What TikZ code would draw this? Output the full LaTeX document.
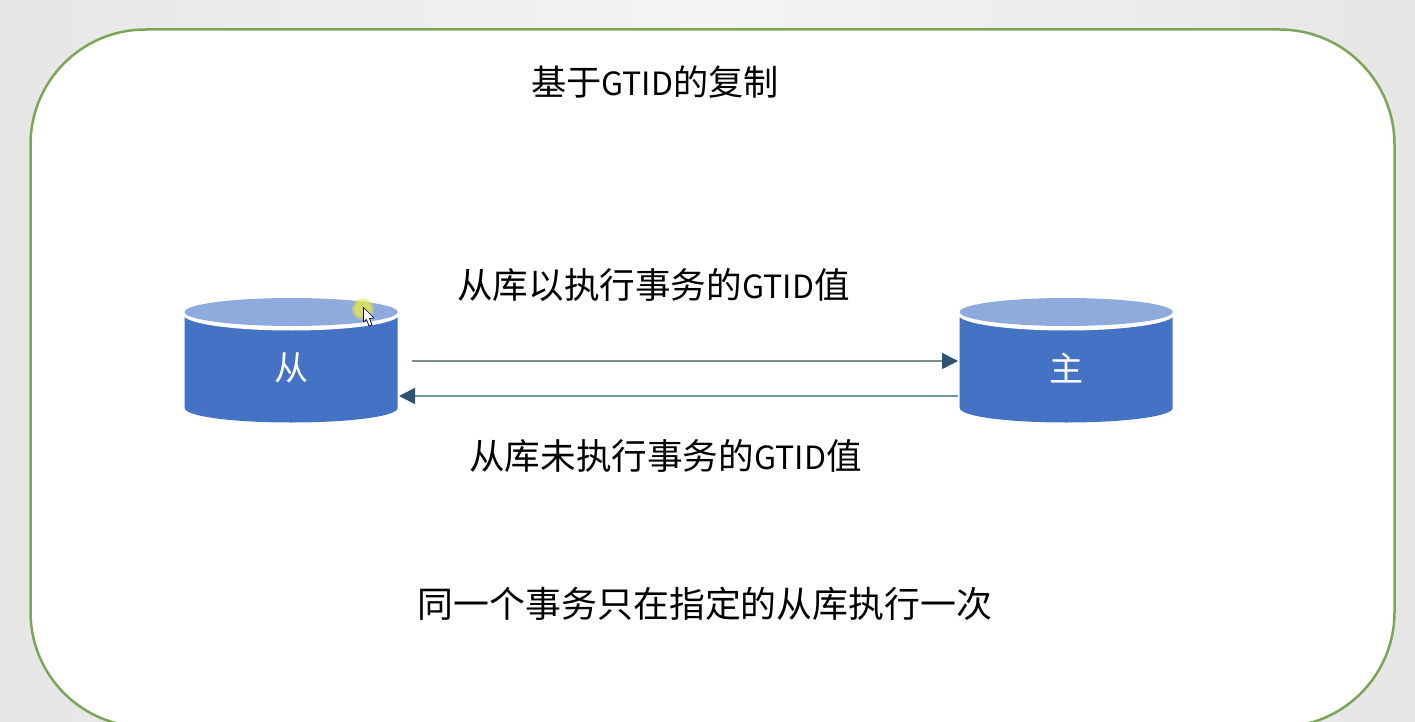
\documentclass[tikz,border=0pt]{standalone}
\usepackage{fontspec}
\setmainfont{Noto Sans CJK SC}
\usetikzlibrary{arrows.meta,shadings}
\definecolor{pagegray}{HTML}{E6E6E6}
\definecolor{pagelight}{HTML}{F4F4F4}
\definecolor{framegreen}{HTML}{7BA655}
\definecolor{dbbody}{HTML}{4472C4}
\definecolor{dbtop}{HTML}{8FAADC}
\definecolor{arrowline}{HTML}{7F8C8E}
\definecolor{arrowlinetwo}{HTML}{7696A6}
\definecolor{arrowhead}{HTML}{2F5373}
\definecolor{pointerglow}{HTML}{E6E650}
\newcommand{\gtid}{{\fontsize{32}{40}\selectfont GTID}}
\tikzset{
  x=1pt,y=-1pt,
  caption/.style={text=black,inner sep=0pt,anchor=center},
  titletext/.style={caption,font=\fontsize{35.2}{40}\selectfont},
  flowtext/.style={caption,font=\fontsize{35.6}{40}\selectfont},
  notetext/.style={caption,font=\fontsize{35.9}{40}\selectfont},
  dblabel/.style={font=\fontsize{34}{40}\selectfont,text=white,inner sep=0pt,anchor=center},
  flow/.style={line width=1.5pt,-{Triangle[length=16pt,width=16pt,color=arrowhead]}},
}
\newcommand{\dbdrum}[1]{%
  \fill[dbbody] (#1-106.5,312) -- (#1-106.5,408)
    .. controls (#1-106.5,416.3) and (#1-58.8,422.5) .. (#1,422.5)
    .. controls (#1+58.8,422.5) and (#1+106.5,416.3) .. (#1+106.5,408) -- (#1+106.5,312) -- cycle;
  \fill[white] (#1,314.5) ellipse [x radius=108,y radius=16];
  \fill[dbtop] (#1,312) ellipse [x radius=106.5,y radius=14];
}
\begin{document}
\begin{tikzpicture}
\useasboundingbox (0,0) rectangle (1415,722);
\fill[left color=pagegray,right color=pagegray,middle color=pagelight] (0,0) rectangle (1415,722);
\begin{scope}
\clip (0,0) rectangle (1415,722);
\draw[draw=framegreen,fill=white,line width=2.5pt,rounded corners=115pt] (30.5,29.5) rectangle (1394.5,727);
\end{scope}
\dbdrum{291.2}
\dbdrum{1066.2}
\fill[pointerglow,opacity=.45] (363,309) circle [radius=11];
\fill[pointerglow,opacity=.7] (363,309) circle [radius=8.5];
\draw[fill=white,draw=black!80!blue,line width=.7pt,line join=round] (363.5,307.5) -- (363.5,322) -- (366.5,319.5) -- (369,326) -- (372,325) -- (369.5,318.5) -- (374,318) -- cycle;
\node[titletext] (title) at (655,82) {基于\gtid 的复制};
\node[flowtext] (upper) at (653.5,285.5) {从库以执行事务的\gtid 值};
\node[flowtext] (lower) at (665.5,455.5) {从库未执行事务的\gtid 值};
\node[notetext] (note) at (705,603.5) {同一个事务只在指定的从库执行一次};
\node[dblabel] (slave) at (291,368) {从};
\node[dblabel] (master) at (1066,368) {主};
\coordinate (slaveout) at (412,361);
\coordinate (masterin) at (958,361);
\coordinate (masterout) at (958,396);
\coordinate (slavein) at (399,396);
\draw[flow,draw=arrowline] (slaveout) -- (masterin);
\draw[flow,draw=arrowlinetwo] (masterout) -- (slavein);
\end{tikzpicture}
\end{document}
